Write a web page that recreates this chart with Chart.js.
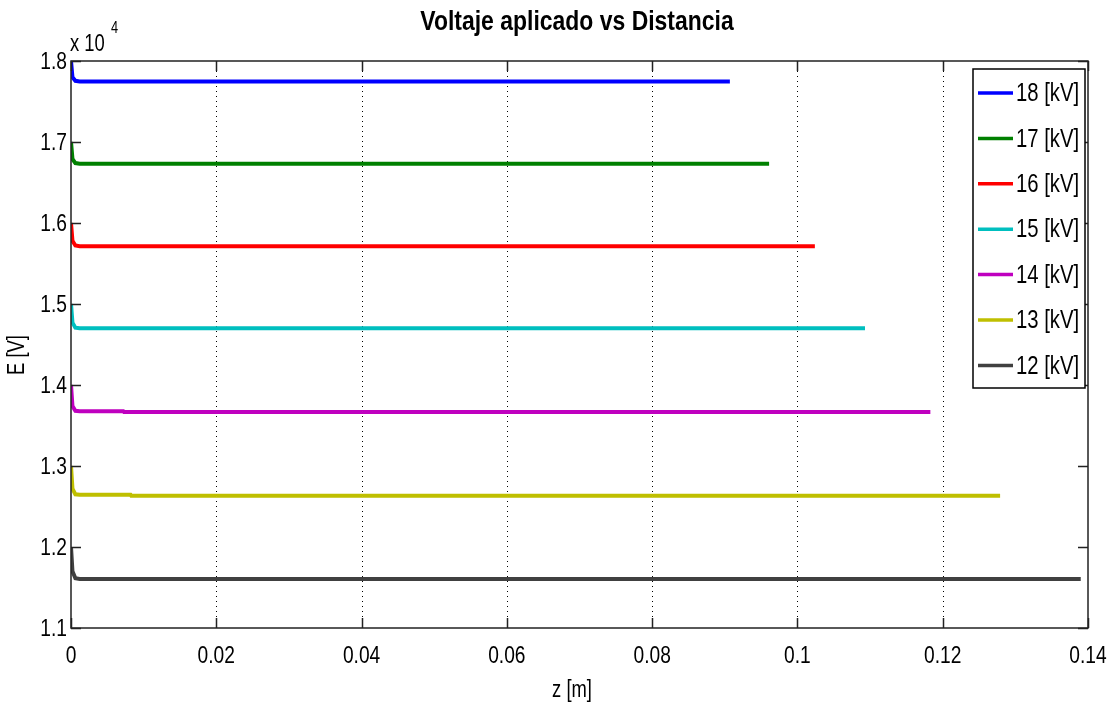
<!DOCTYPE html>
<html>
<head>
<meta charset="utf-8">
<script src="https://cdn.jsdelivr.net/npm/chart.js@4.4.0/dist/chart.umd.min.js"></script>
<style>
  body { margin: 0; background: #fff; }
</style>
</head>
<body>
<canvas id="myChart" width="1112" height="713"></canvas>

<script>
// series names and colours (top to bottom in legend)
const seriesLabels = ['18 [kV]', '17 [kV]', '16 [kV]', '15 [kV]', '14 [kV]', '13 [kV]', '12 [kV]'];
const seriesColors = ['#0000ff', '#008000', '#ff0000', '#00bfbf', '#bf00bf', '#bfbf00', '#404040'];

// z [m] and E [V] for each curve
const z18 = [0, 0.0002, 0.0006, 0.0012, 0.0907];
const e18 = [18000, 17800, 17756, 17748, 17748];
const z17 = [0, 0.0002, 0.0006, 0.0012, 0.0961];
const e17 = [17000, 16790, 16740, 16732, 16732];
const z16 = [0, 0.0002, 0.0006, 0.0012, 0.1024];
const e16 = [16000, 15780, 15722, 15714, 15714];
const z15 = [0, 0.0002, 0.0006, 0.0012, 0.1093];
const e15 = [15000, 14770, 14708, 14700, 14700];
const z14 = [0, 0.0002, 0.0006, 0.0012, 0.0072, 0.0073, 0.1183];
const e14 = [14000, 13740, 13682, 13676, 13676, 13666, 13666];
const z13 = [0, 0.0002, 0.0006, 0.0012, 0.0082, 0.0083, 0.1279];
const e13 = [13000, 12720, 12650, 12644, 12644, 12632, 12632];
const z12 = [0, 0.0002, 0.0006, 0.0012, 0.1390];
const e12 = [12000, 11700, 11614, 11606, 11606];

const zSets = [z18, z17, z16, z15, z14, z13, z12];
const eSets = [e18, e17, e16, e15, e14, e13, e12];

// axes
const xTicks = [0, 0.02, 0.04, 0.06, 0.08, 0.1, 0.12, 0.14];
const yTicks = [11000, 12000, 13000, 14000, 15000, 16000, 17000, 18000];

const FONT = '"Liberation Sans", Arial, sans-serif';

const datasets = seriesLabels.map(function (lab, i) {
  return {
    label: lab,
    data: zSets[i].map(function (z, k) { return { x: z, y: eSets[i][k] }; }),
    borderColor: seriesColors[i],
    backgroundColor: seriesColors[i],
    borderWidth: 4,
    pointRadius: 0,
    tension: 0,
    fill: false
  };
});

// the original text is a narrow face, so squeeze it sideways
function narrowText(c, s, x, y, font, align, sq) {
  c.save();
  c.font = font;
  c.textAlign = align || 'left';
  c.textBaseline = 'middle';
  c.translate(x, y);
  c.scale(sq || 0.8, 1);
  c.fillText(s, 0, 0);
  c.restore();
}

// matlab-ish decorations: box, inward ticks, dotted grid, labels, legend
const matlabDeco = {
  id: 'matlabDeco',
  beforeDatasetsDraw(chart) {
    const c = chart.ctx, a = chart.chartArea, xs = chart.scales.x;
    c.save();
    c.strokeStyle = '#000';
    c.lineWidth = 1;
    c.setLineDash([1, 4]);
    xTicks.forEach(function (v) {
      if (v === 0 || v === 0.14) return;
      const px = Math.round(xs.getPixelForValue(v)) + 0.5;
      c.beginPath(); c.moveTo(px, a.top); c.lineTo(px, a.bottom); c.stroke();
    });
    c.restore();
  },
  afterDraw(chart) {
    const c = chart.ctx, a = chart.chartArea, xs = chart.scales.x, ys = chart.scales.y;
    c.save();
    c.strokeStyle = '#222';
    c.lineWidth = 1.5;
    c.setLineDash([]);
    c.strokeRect(a.left, a.top, a.right - a.left, a.bottom - a.top);
    // inward ticks
    c.beginPath();
    yTicks.forEach(function (v) {
      const py = Math.round(ys.getPixelForValue(v)) + 0.5;
      c.moveTo(a.left, py); c.lineTo(a.left + 10, py);
      c.moveTo(a.right, py); c.lineTo(a.right - 10, py);
    });
    xTicks.forEach(function (v) {
      const px = Math.round(xs.getPixelForValue(v)) + 0.5;
      c.moveTo(px, a.bottom); c.lineTo(px, a.bottom - 10);
      c.moveTo(px, a.top); c.lineTo(px, a.top + 10);
    });
    c.stroke();

    c.fillStyle = '#000';
    // tick labels
    yTicks.forEach(function (v) {
      narrowText(c, (v / 10000).toFixed(1), a.left - 4, ys.getPixelForValue(v) + 1, '24px ' + FONT, 'right');
    });
    xTicks.forEach(function (v) {
      narrowText(c, String(+v.toFixed(2)), xs.getPixelForValue(v), 656, '24px ' + FONT, 'center');
    });

    // title
    narrowText(c, 'Voltaje aplicado vs Distancia', 577, 23, 'bold 27px ' + FONT, 'center', 0.85);

    // exponent
    narrowText(c, 'x 10', 70, 45, '23px ' + FONT, 'left');
    narrowText(c, '4', 111, 29, '16px ' + FONT, 'left');

    // axis titles
    narrowText(c, 'z [m]', 572, 691, '23px ' + FONT, 'center');
    c.save();
    c.translate(18, 355);
    c.rotate(-Math.PI / 2);
    narrowText(c, 'E [V]', 0, 0, '23px ' + FONT, 'center');
    c.restore();

    // legend
    const lx = a.right - 115, ly = a.top + 8, lw = 112, lh = 319;
    c.fillStyle = '#fff';
    c.fillRect(lx, ly, lw, lh);
    c.strokeStyle = '#000';
    c.lineWidth = 1.5;
    c.strokeRect(lx, ly, lw, lh);
    chart.data.datasets.forEach(function (ds, i) {
      const yy = ly + 24 + i * 45.4;
      c.strokeStyle = ds.borderColor;
      c.lineWidth = 3.5;
      c.beginPath(); c.moveTo(lx + 5, yy); c.lineTo(lx + 40, yy); c.stroke();
      c.fillStyle = '#000';
      narrowText(c, ds.label, lx + 43, yy + 1, '26px ' + FONT, 'left', 0.78);
    });
    c.restore();
  }
};

new Chart(document.getElementById('myChart'), {
  type: 'line',
  data: { datasets: datasets },
  options: {
    responsive: false,
    animation: false,
    layout: { padding: { top: 61, right: 24, left: 0, bottom: 0 } },
    plugins: {
      legend: { display: false },
      title: { display: false },
      tooltip: { enabled: false }
    },
    scales: {
      x: {
        type: 'linear',
        min: 0,
        max: 0.14,
        afterFit: function (s) { s.height = 85; },
        afterBuildTicks: function (s) { s.ticks = xTicks.map(function (v) { return { value: v }; }); },
        grid: { display: false, drawTicks: false },
        border: { display: false },
        ticks: { display: false }
      },
      y: {
        type: 'linear',
        min: 11000,
        max: 18000,
        afterFit: function (s) { s.width = 71; },
        afterBuildTicks: function (s) { s.ticks = yTicks.map(function (v) { return { value: v }; }); },
        grid: { display: false, drawTicks: false },
        border: { display: false },
        ticks: { display: false }
      }
    }
  },
  plugins: [matlabDeco]
});
</script>
</body>
</html>
